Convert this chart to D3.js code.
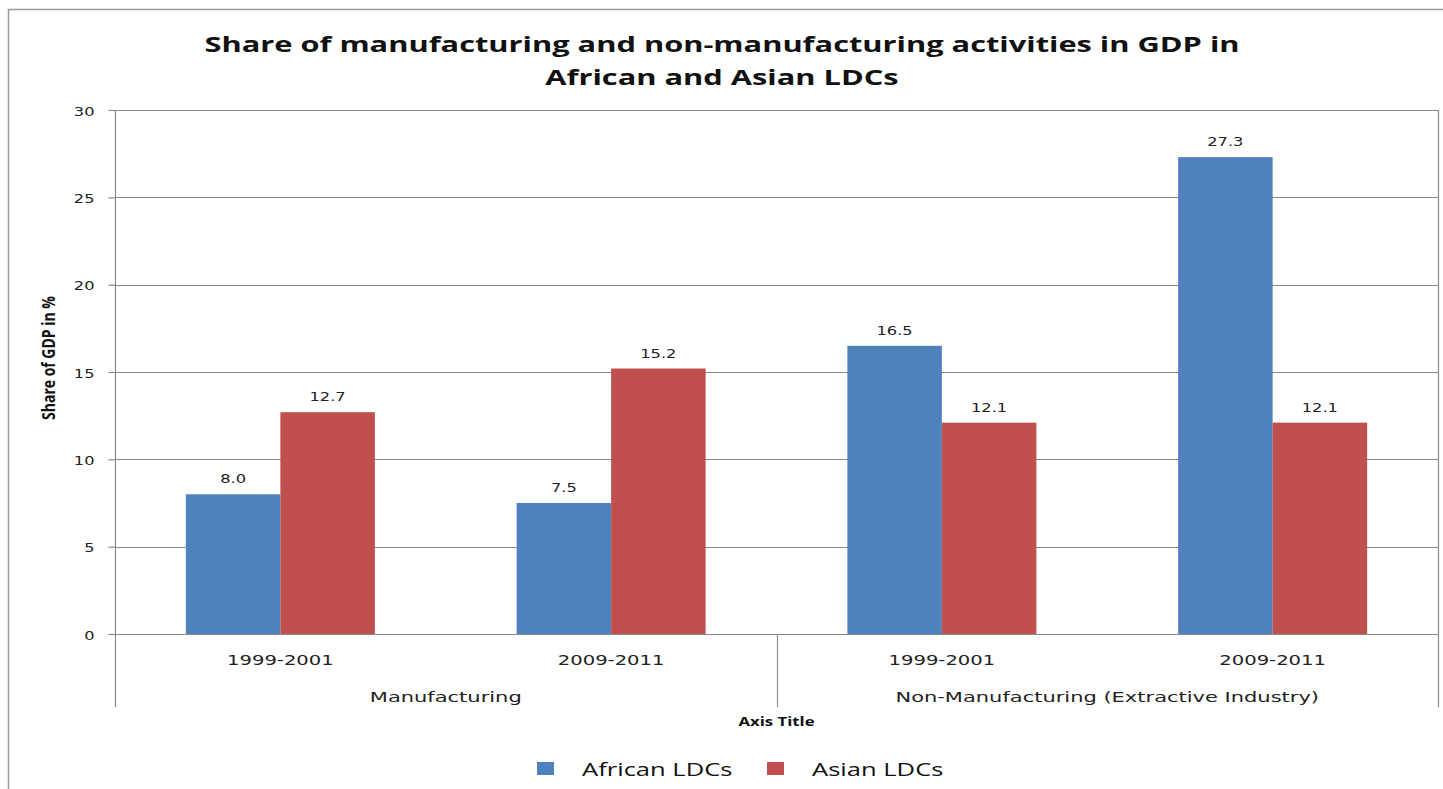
<!DOCTYPE html>
<html>
<head>
<meta charset="utf-8">
<script src="https://cdn.jsdelivr.net/npm/d3@7"></script>
<style>
  html, body { margin: 0; padding: 0; background: #ffffff; }
  svg { display: block; }
</style>
</head>
<body>
<svg id="chart" width="1443" height="789"></svg>
<script>
// Chart data
const periods = ["1999-2001", "2009-2011", "1999-2001", "2009-2011"];
const groups = ["Manufacturing", "Non-Manufacturing (Extractive Industry)"];
const seriesNames = ["African LDCs", "Asian LDCs"];
const africanLDCs = [8.0, 7.5, 16.5, 27.3];
const asianLDCs = [12.7, 15.2, 12.1, 12.1];
const yTicks = [0, 5, 10, 15, 20, 25, 30];
const titleLines = ["Share of manufacturing and non-manufacturing activities in GDP in", "African and Asian LDCs"];

const colors = ["#4F81BD", "#C0504D"];
const gridColor = "#8a8a8a";
const axisFont = "'DejaVu Sans', sans-serif";
const labelFont = "'Open Sans', sans-serif";

const svg = d3.select("#chart");

// Places a text at (x, y), widened horizontally around its anchor point
function wideText(parent, x, y, sx, str) {
  return parent.append("text")
    .attr("transform", `translate(${x},${y}) scale(${sx},1)`)
    .text(str);
}

// Outer chart frame
svg.append("rect")
  .attr("x", 8.5).attr("y", 9.5)
  .attr("width", 1500).attr("height", 900)
  .attr("fill", "#fff")
  .attr("stroke", "#9a9a9a").attr("stroke-width", 1.5);

const plot = { left: 115, right: 1438, top: 110, bottom: 634, catBottom: 707 };

const x = d3.scaleBand()
  .domain(d3.range(periods.length))
  .range([plot.left, plot.right])
  .paddingInner(1.5 / 3.5)
  .paddingOuter(0.75 / 3.5);

const xs = d3.scaleBand()
  .domain(d3.range(seriesNames.length))
  .range([0, x.bandwidth()]);

const y = d3.scaleLinear().domain([0, 30]).range([plot.bottom, plot.top]);

// Horizontal gridlines
svg.append("g")
  .selectAll("line")
  .data(yTicks)
  .join("line")
  .attr("x1", plot.left).attr("x2", plot.right)
  .attr("y1", d => Math.round(y(d)) + 0.5).attr("y2", d => Math.round(y(d)) + 0.5)
  .attr("stroke", gridColor).attr("stroke-width", 1.2);

// Bars and value labels
const seriesValues = [africanLDCs, asianLDCs];
seriesValues.forEach((vals, si) => {
  svg.append("g")
    .selectAll("rect")
    .data(vals)
    .join("rect")
    .attr("x", (d, i) => x(i) + xs(si))
    .attr("y", d => y(d))
    .attr("width", xs.bandwidth())
    .attr("height", d => y(0) - y(d))
    .attr("fill", colors[si]);

  const lg = svg.append("g")
    .attr("text-anchor", "middle")
    .attr("font-family", axisFont)
    .attr("font-size", 13)
    .attr("fill", "#222");
  vals.forEach((d, i) => {
    wideText(lg, x(i) + xs(si) + xs.bandwidth() / 2, y(d) - 11, 1.25, d.toFixed(1));
  });
});

// Y axis
const yAxis = d3.axisLeft(y)
  .tickValues(yTicks)
  .tickSize(7)
  .tickPadding(14)
  .tickFormat(d3.format("d"));

const yG = svg.append("g")
  .attr("transform", `translate(${plot.left + 0.5},0)`)
  .call(yAxis);
yG.select(".domain").remove();
yG.selectAll(".tick line").attr("stroke", gridColor).attr("stroke-width", 1.2);
yG.selectAll(".tick text")
  .attr("font-family", axisFont)
  .attr("font-size", 13)
  .attr("fill", "#222")
  .attr("dy", null)
  .attr("x", null)
  .attr("transform", "translate(-21,5) scale(1.25,1)");

// Axis lines and category dividers
const frame = svg.append("g").attr("stroke", gridColor).attr("stroke-width", 1.2);
frame.append("line")
  .attr("x1", plot.left + 0.5).attr("x2", plot.left + 0.5)
  .attr("y1", plot.top).attr("y2", plot.catBottom);
frame.append("line")
  .attr("x1", plot.right + 0.5).attr("x2", plot.right + 0.5)
  .attr("y1", plot.top).attr("y2", plot.catBottom);
// divider between the two groups
const midX = (x(1) + x.bandwidth() + x(2)) / 2;
frame.append("line")
  .attr("x1", Math.round(midX) + 0.5).attr("x2", Math.round(midX) + 0.5)
  .attr("y1", plot.bottom).attr("y2", plot.catBottom);

// Period labels
const pg = svg.append("g")
  .attr("text-anchor", "middle")
  .attr("font-family", axisFont)
  .attr("font-size", 14)
  .attr("fill", "#222");
periods.forEach((p, i) => wideText(pg, x(i) + x.bandwidth() / 2, 665, 1.4, p));

// Group labels
const gg = svg.append("g")
  .attr("text-anchor", "middle")
  .attr("font-family", axisFont)
  .attr("font-size", 14)
  .attr("fill", "#222");
groups.forEach((g, gi) => {
  const left = gi === 0 ? plot.left : midX;
  const right = gi === groups.length - 1 ? plot.right : midX;
  wideText(gg, (left + right) / 2, 702, 1.5, g);
});

// Axis titles
wideText(svg, midX, 726, 1.4, "Axis Title")
  .attr("text-anchor", "middle")
  .attr("font-family", labelFont)
  .attr("font-weight", "bold")
  .attr("font-size", 12)
  .attr("fill", "#111");

svg.append("text")
  .attr("transform", "translate(55,358) rotate(-90) scale(1,1.3)")
  .attr("text-anchor", "middle")
  .attr("font-family", labelFont)
  .attr("font-weight", "bold")
  .attr("font-size", 14)
  .attr("fill", "#111")
  .text("Share of GDP in %");

// Title
const tg = svg.append("g")
  .attr("text-anchor", "middle")
  .attr("font-family", labelFont)
  .attr("font-weight", "bold")
  .attr("font-size", 22)
  .attr("fill", "#111");
titleLines.forEach((t, i) => wideText(tg, 722, 52 + i * 33, 1.4, t));

// Legend
const legend = svg.append("g");
const legendX = [537, 767];
seriesNames.forEach((name, i) => {
  legend.append("rect")
    .attr("x", legendX[i]).attr("y", 762)
    .attr("width", 17).attr("height", 13)
    .attr("fill", colors[i]);
  wideText(legend, legendX[i] + 45, 776, 1.42, name)
    .attr("font-family", labelFont)
    .attr("font-size", 18)
    .attr("fill", "#111");
});
</script>
</body>
</html>
